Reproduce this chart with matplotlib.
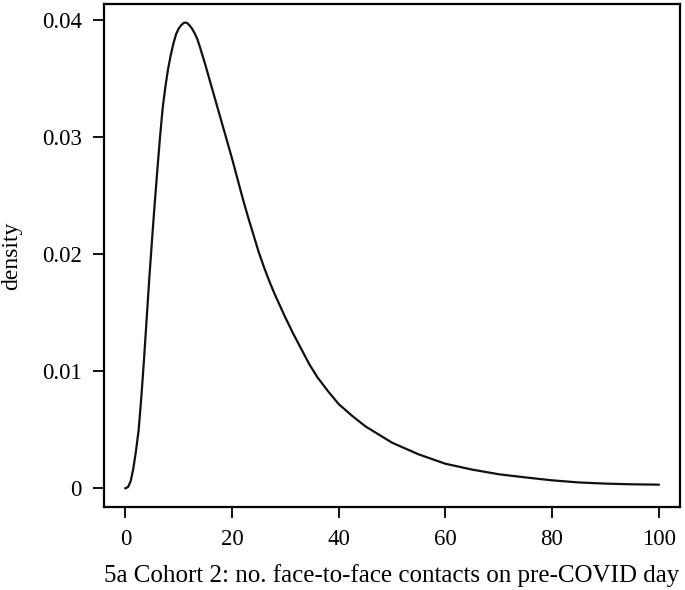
import matplotlib
matplotlib.use("Agg")
import matplotlib.pyplot as plt

contacts = [0, 0.5, 1, 1.5, 2, 2.5, 3, 3.5, 4, 4.5, 5, 5.5, 6, 6.5, 7, 7.5, 8, 8.5, 9, 9.5,
            10, 10.5, 11, 11.5, 12, 12.5, 13, 13.5, 14, 15, 16, 17, 18, 19,
            20, 21, 22, 23, 24, 25, 26, 27, 28, 29, 30, 31.5, 33, 34.5, 36, 38, 40, 42.5, 45,
            47.5, 50, 52.5, 55, 57.5, 60, 65, 70, 75, 80, 85, 90, 95, 100]
density = [0, 0.0001, 0.0006, 0.0017, 0.0032, 0.0050, 0.0078, 0.0110, 0.0145, 0.0180,
           0.0212, 0.0243, 0.0272, 0.0300, 0.0325, 0.0343, 0.0358, 0.0370, 0.0380, 0.0388,
           0.0393, 0.0396, 0.0398, 0.0398, 0.0396, 0.0393, 0.0389, 0.0384, 0.0377, 0.0362,
           0.0346, 0.0330, 0.0314, 0.0298,
           0.0282, 0.0265, 0.0248, 0.0232, 0.0217, 0.0202, 0.0189, 0.0177, 0.0166, 0.0156,
           0.0146, 0.0132, 0.0119, 0.0106, 0.0095, 0.0083, 0.0072, 0.0062, 0.0053,
           0.0046, 0.0039, 0.0034, 0.0029, 0.0025, 0.0021, 0.0016, 0.0012, 0.00093,
           0.00068, 0.0005, 0.0004, 0.00034, 0.00031]
xticks = [0, 20, 40, 60, 80, 100]
yticks = [0, 0.01, 0.02, 0.03, 0.04]
ytick_labels = ["0", "0.01", "0.02", "0.03", "0.04"]

plt.rcParams['font.family'] = ['Liberation Serif', 'DejaVu Serif']

fig = plt.figure(figsize=(6.85, 5.9), dpi=100)
ax = fig.add_axes([104/685, 83/590, (680-104)/685, (507-4)/590])
ax.plot(contacts, density, color='#111111', lw=1.6, solid_joinstyle='round')
ax.set_xlim(-4, 104)
ax.set_ylim(-0.0016, 0.0414)
ax.set_xticks(xticks)
ax.set_xticklabels([str(t) for t in xticks])
ax.set_yticks(yticks)
ax.set_yticklabels(ytick_labels)
ax.tick_params(axis='both', direction='out', length=8, width=1.3, labelsize=16.5, colors='black', pad=8)
for s in ax.spines.values():
    s.set_linewidth(1.6)
ax.set_xlabel("5a Cohort 2: no. face-to-face contacts on pre-COVID day", fontsize=18)
ax.xaxis.set_label_coords(0.5, -0.137)
ax.xaxis.label.set_va('center')
ax.set_ylabel("density", fontsize=17)
ax.yaxis.set_label_coords(-0.142, 0.5)
fig.savefig("out.png", dpi=100)
